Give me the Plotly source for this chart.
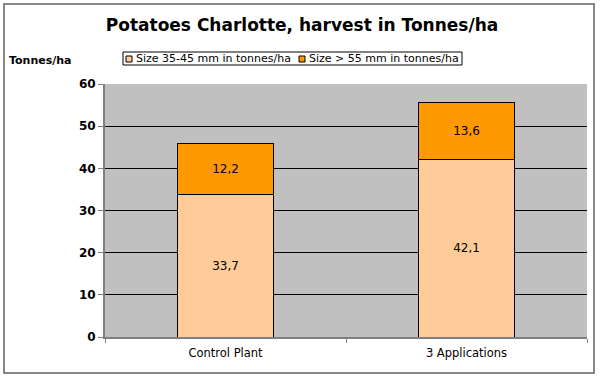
import plotly.graph_objects as go

categories = ["Control Plant", "3 Applications"]
size_35_45 = [33.7, 42.1]
size_gt_55 = [12.2, 13.6]
series_names = ["Size 35-45 mm in tonnes/ha", "Size > 55 mm in tonnes/ha"]
series_colors = ["#FFCC99", "#FF9900"]
y_ticks = [0, 10, 20, 30, 40, 50, 60]

W, H = 600, 377
L, R, T, B = 105, 13, 84, 40
pw, ph = W - L - R, H - T - B

def px(x):
    return (x - L) / pw

def py(y):
    return (H - B - y) / ph

font = "DejaVu Sans"

fig = go.Figure()
for vals, name, col in zip([size_35_45, size_gt_55], series_names, series_colors):
    fig.add_trace(go.Bar(
        x=categories, y=vals, name=name,
        marker=dict(color=col, line=dict(color="#000000", width=1)),
        texttemplate="%{y:.1f}", textposition="inside", insidetextanchor="middle",
        textfont=dict(family=font, size=12, color="#000000"),
        showlegend=False,
    ))

shapes = [dict(type="rect", xref="paper", yref="paper",
               x0=px(4), x1=px(594), y0=py(373), y1=py(4),
               line=dict(color="#606060", width=1.5), fillcolor="rgba(0,0,0,0)",
               layer="below"),
          # legend box
          dict(type="rect", xref="paper", yref="paper",
               x0=px(123), x1=px(462), y0=py(65), y1=py(52),
               line=dict(color="#000000", width=1), fillcolor="#FFFFFF")]
annotations = [dict(text="<b>Tonnes/ha</b>", xref="paper", yref="paper",
                    x=px(7), y=py(60), xanchor="left", yanchor="middle",
                    showarrow=False, font=dict(family=font, size=11))]
legend_x = [126, 299]
for lx, name, col in zip(legend_x, series_names, series_colors):
    shapes.append(dict(type="rect", xref="paper", yref="paper",
                       x0=px(lx), x1=px(lx + 6), y0=py(62), y1=py(56),
                       line=dict(color="#000000", width=1), fillcolor=col))
    annotations.append(dict(text=name, xref="paper", yref="paper",
                            x=px(lx + 8), y=py(58.5), xanchor="left", yanchor="middle",
                            showarrow=False, font=dict(family=font, size=11)))

fig.update_layout(
    width=W, height=H,
    margin=dict(l=L, r=R, t=T, b=B, autoexpand=False),
    barmode="stack", bargap=0.6,
    separators=",.",
    paper_bgcolor="#FFFFFF", plot_bgcolor="#C0C0C0",
    font=dict(family=font, size=11, color="#000000"),
    title=dict(text="<b>Potatoes Charlotte, harvest in Tonnes/ha</b>",
               x=302 / W, xanchor="center", xref="container", y=1 - 25 / H, yanchor="middle",
               font=dict(family=font, size=17, color="#000000")),
    showlegend=False,
    xaxis=dict(showgrid=False, showline=True, linecolor="#808080", linewidth=2,
               ticks="outside", tickson="boundaries", ticklen=4, tickcolor="#808080",
               tickfont=dict(family=font, size=11.5), automargin=False,
               ticklabelstandoff=4),
    yaxis=dict(range=[0, 60], tickvals=y_ticks, ticktext=[f"<b>{v}</b>" for v in y_ticks],
               showgrid=True, gridcolor="#000000",
               gridwidth=1, showline=True, linecolor="#808080", linewidth=2,
               ticks="outside", ticklen=5, tickcolor="#808080",
               tickfont=dict(family=font, size=12), zeroline=False, automargin=False),
    shapes=shapes,
    annotations=annotations,
)

fig.write_html("out.html", config={"displayModeBar": False},
               post_script="document.body.style.margin='0';document.body.style.overflow='hidden';")
